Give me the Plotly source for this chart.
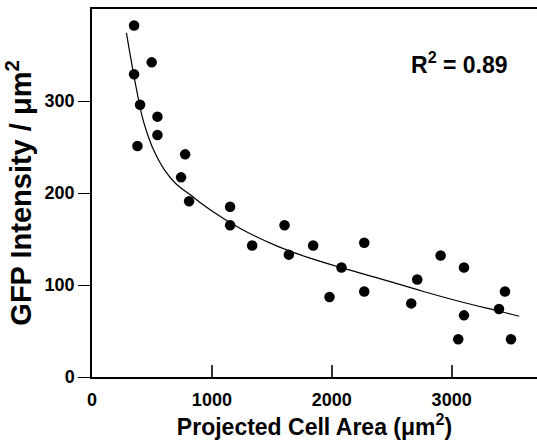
import plotly.graph_objects as go

# Scatter data (projected cell area in µm², GFP intensity / µm²)
area = [351, 498, 351, 401, 546, 546, 379, 777, 743, 810, 1152, 1152, 1336, 1606,
        1642, 1845, 1981, 2081, 2271, 2271, 2663, 2713, 2908, 3055, 3103, 3103,
        3395, 3445, 3495]
gfp = [382, 342, 329, 296, 283, 263, 251, 242, 217, 191, 185, 165, 143, 165,
       133, 143, 87, 119, 146, 93, 80, 106, 132, 41, 119, 67, 74, 93, 41]

# Fitted curve
fit_x = [287, 320, 350, 380, 415, 460, 520, 600, 700, 820, 950, 1100, 1300,
         1550, 1800, 2100, 2400, 2750, 3100, 3400, 3564]
fit_y = [374, 349, 327, 307, 285, 265, 245, 226, 210, 198, 185, 172, 157,
         142, 130, 118, 107, 93.5, 81, 71.5, 66]

x_ticks = [0, 1000, 2000, 3000]
y_ticks = [0, 100, 200, 300]

FONT = "Liberation Sans, Arial, Helvetica, sans-serif"

fig = go.Figure()
fig.add_trace(go.Scatter(
    x=fit_x, y=fit_y, mode="lines",
    line=dict(color="black", width=1.2, shape="spline", smoothing=1.0),
    hoverinfo="skip", showlegend=False,
))
fig.add_trace(go.Scatter(
    x=area, y=gfp, mode="markers",
    marker=dict(color="black", size=10.5, line=dict(width=0)),
    showlegend=False,
))

fig.add_annotation(
    x=0.825, y=0.853, xref="paper", yref="paper",
    xanchor="center", yanchor="middle",
    text="<b>R<sup>2</sup> = 0.89</b>", showarrow=False,
    font=dict(family=FONT, size=23, color="black"),
)

fig.update_layout(
    width=537, height=443,
    margin=dict(l=92, r=0, t=9, b=66),
    paper_bgcolor="white", plot_bgcolor="white",
    font=dict(family=FONT, color="black"),
    xaxis=dict(
        range=[0, 3712], tickvals=x_ticks, ticktext=[str(v) for v in x_ticks],
        ticks="inside", ticklen=12, tickwidth=1.5, tickcolor="#333",
        showline=True, linecolor="black", linewidth=1.5, mirror=True,
        showgrid=False, zeroline=False, automargin=False,
        tickfont=dict(family=FONT, size=18, color="black", weight="bold"),
        ticklabelstandoff=6,
        title=dict(text="<b>Projected Cell Area (μm<sup>2</sup>)</b>",
                   font=dict(family=FONT, size=23, color="black"), standoff=1),
    ),
    yaxis=dict(
        range=[0, 400], tickvals=y_ticks, ticktext=[str(v) for v in y_ticks],
        ticks="outside", ticklen=12, tickwidth=1, tickcolor="black",
        showline=True, linecolor="black", linewidth=1.5,
        showgrid=False, zeroline=False, automargin=False,
        tickfont=dict(family=FONT, size=18, color="black", weight="bold"),
        title=dict(text="<b>GFP Intensity / μm<sup>2</sup></b>",
                   font=dict(family=FONT, size=29, color="black"), standoff=4),
    ),
)

fig.write_html(
    "out.html",
    config={"displayModeBar": False},
    post_script="document.body.style.margin='0';document.body.style.overflow='hidden';",
)
